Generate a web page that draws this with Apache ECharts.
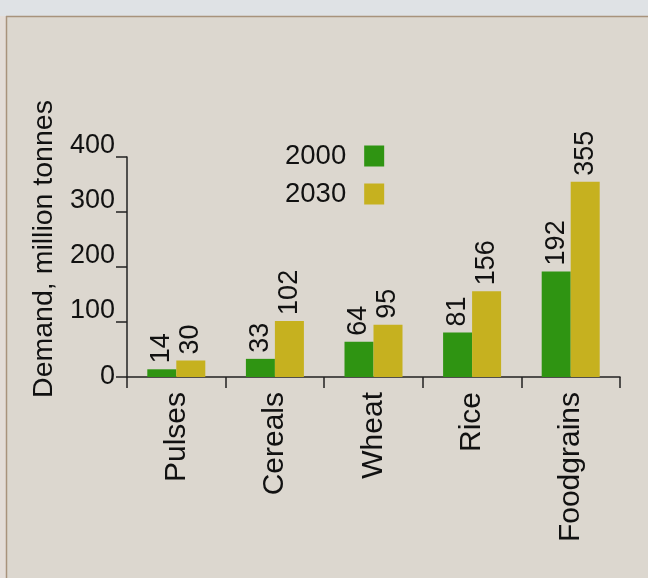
<!DOCTYPE html>
<html>
<head>
<meta charset="utf-8">
<script src="https://cdn.jsdelivr.net/npm/echarts@6/dist/echarts.min.js"></script>
<style>
  html, body { margin: 0; padding: 0; background: #dcd7cf; }
  #main { width: 648px; height: 578px; }
</style>
</head>
<body>
<div id="main"></div>
<script>
// data
var categories = ["Pulses", "Cereals", "Wheat", "Rice", "Foodgrains"];
var demand2000 = [14, 33, 64, 81, 192];
var demand2030 = [30, 102, 95, 156, 355];
var seriesNames = ["2000", "2030"];

var FONT = "Liberation Sans, Arial, sans-serif";

var myChart = echarts.init(document.getElementById("main"));

var barLabel = {
  show: true,
  position: "top",
  rotate: 90,
  align: "left",
  verticalAlign: "middle",
  distance: 6,
  color: "#111",
  fontFamily: FONT,
  fontSize: 27
};

var option = {
  backgroundColor: "#dcd7cf",
  animation: false,
  graphic: [
    // frame of the slide
    { type: "rect", shape: { x: 0, y: 0, width: 648, height: 16 }, style: { fill: "#dfe2e5" }, silent: true },
    { type: "rect", shape: { x: 0, y: 16, width: 6, height: 562 }, style: { fill: "#e4ddd8" }, silent: true },
    { type: "line", shape: { x1: 6, y1: 16.5, x2: 648, y2: 16.5 }, style: { stroke: "#a8937c", lineWidth: 1.5 }, silent: true },
    { type: "line", shape: { x1: 6.5, y1: 16, x2: 6.5, y2: 578 }, style: { stroke: "#a8937c", lineWidth: 1.5 }, silent: true }
  ],
  grid: {
    left: 127,
    right: 28,
    top: 157,
    bottom: 201,
    containLabel: false
  },
  legend: {
    data: seriesNames,
    orient: "vertical",
    align: "right",
    left: 280,
    top: 137,
    itemWidth: 20,
    itemHeight: 21,
    itemGap: 10,
    icon: "rect",
    textStyle: {
      color: "#111",
      fontFamily: FONT,
      fontSize: 27.5,
      padding: [0, 13, 0, 0]
    }
  },
  xAxis: {
    type: "category",
    data: categories,
    axisLine: { lineStyle: { color: "#222", width: 1.5 } },
    axisTick: { show: true, length: 11, lineStyle: { color: "#222", width: 1.5 } },
    axisLabel: {
      rotate: 90,
      margin: 15,
      color: "#111",
      fontFamily: FONT,
      fontSize: 30
    }
  },
  yAxis: {
    type: "value",
    min: 0,
    max: 400,
    interval: 100,
    name: "Demand, million tonnes",
    nameLocation: "middle",
    nameGap: 63,
    nameTextStyle: {
      color: "#111",
      fontFamily: FONT,
      fontSize: 28.5,
      padding: [0, 0, 0, 36]
    },
    axisLine: { show: true, lineStyle: { color: "#222", width: 1.5 } },
    axisTick: { show: true, length: 11, lineStyle: { color: "#222", width: 1.5 } },
    splitLine: { show: false },
    axisLabel: {
      margin: 12,
      color: "#111",
      fontFamily: FONT,
      fontSize: 27,
      formatter: function (v) {
        // labels sit on their ticks except the zero one
        return v === 0 ? "{z|0}" : "{t|" + v + "}";
      },
      rich: {
        z: { fontFamily: FONT, fontSize: 27, color: "#111" },
        t: { fontFamily: FONT, fontSize: 27, color: "#111", padding: [0, 0, 22, 0] }
      }
    }
  },
  series: [
    {
      name: seriesNames[0],
      type: "bar",
      barWidth: 29,
      barGap: "0%",
      itemStyle: { color: "#2f9412" },
      label: barLabel,
      data: demand2000
    },
    {
      name: seriesNames[1],
      type: "bar",
      barWidth: 29,
      barGap: "0%",
      itemStyle: { color: "#c6b11f" },
      label: barLabel,
      data: demand2030
    }
  ]
};

myChart.setOption(option);
</script>
</body>
</html>
